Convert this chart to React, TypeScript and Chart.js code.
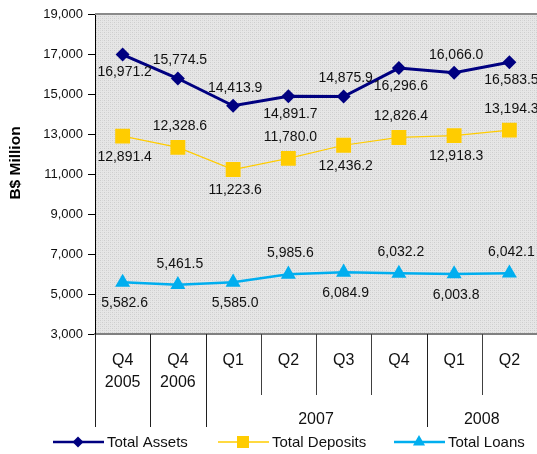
import { useEffect, useRef } from 'react';
import { Chart, registerables } from 'chart.js';

Chart.register(...registerables);

// ---- data ----
const quarters = ['Q4', 'Q4', 'Q1', 'Q2', 'Q3', 'Q4', 'Q1', 'Q2'];
const years = ['2005', '2006', '2007', '2007', '2007', '2007', '2008', '2008'];
const totalAssets = [16971.2, 15774.5, 14413.9, 14891.7, 14875.9, 16296.6, 16066.0, 16583.5];
const totalDeposits = [12891.4, 12328.6, 11223.6, 11780.0, 12436.2, 12826.4, 12918.3, 13194.3];
const totalLoans = [5582.6, 5461.5, 5585.0, 5985.6, 6084.9, 6032.2, 6003.8, 6042.1];
const seriesNames = ['Total Assets', 'Total Deposits', 'Total Loans'];
const yMin = 3000;
const yMax = 19000;
const yStep = 2000;
const yTitle = 'B$ Million';

// label placement (above / below the marker), per series
const labelSides: string[][] = [
  ['below', 'above', 'above', 'below', 'above', 'below', 'above', 'below'],
  ['below', 'above', 'below', 'above', 'below', 'above', 'below', 'above'],
  ['below', 'above', 'below', 'above', 'below', 'above', 'below', 'above'],
];

const FONT = "'Liberation Sans', Arial, sans-serif";

type Group = { year: string; start: number; end: number };
const groups: Group[] = [];
years.forEach((y, i) => {
  const g = groups[groups.length - 1];
  if (g && g.year === y) g.end = i;
  else groups.push({ year: y, start: i, end: i });
});
const tickLabels = quarters.map((q, i) => {
  const g = groups.find((gg) => i >= gg.start && i <= gg.end)!;
  return g.start === g.end ? [q, years[i]] : q;
});

const fmt = (v: number) =>
  v.toLocaleString('en-US', { minimumFractionDigits: 1, maximumFractionDigits: 1 });

function drawMarker(ctx: CanvasRenderingContext2D, style: string, x: number, y: number, r: number, color: string) {
  ctx.save();
  ctx.fillStyle = color;
  ctx.beginPath();
  if (style === 'rectRot') {
    ctx.moveTo(x, y - r);
    ctx.lineTo(x + r, y);
    ctx.lineTo(x, y + r);
    ctx.lineTo(x - r, y);
  } else if (style === 'rect') {
    const s = r * Math.SQRT1_2;
    ctx.rect(x - s, y - s, 2 * s, 2 * s);
  } else {
    const h = r;
    ctx.moveTo(x, y - h);
    ctx.lineTo(x + h * 0.866, y + h * 0.5);
    ctx.lineTo(x - h * 0.866, y + h * 0.5);
  }
  ctx.closePath();
  ctx.fill();
  ctx.restore();
}

export default function App() {
  const ref = useRef<HTMLCanvasElement | null>(null);

  useEffect(() => {
    const canvas = ref.current;
    if (!canvas) return;

    const pc = document.createElement('canvas');
    pc.width = 4;
    pc.height = 4;
    const p = pc.getContext('2d')!;
    p.fillStyle = '#e6e6e6';
    p.fillRect(0, 0, 4, 4);
    p.fillStyle = '#cdcdcd';
    p.fillRect(0, 0, 1, 1);
    p.fillRect(2, 2, 1, 1);
    p.fillStyle = '#d9d9d9';
    p.fillRect(2, 0, 1, 1);
    p.fillRect(0, 2, 1, 1);

    const seriesColors = ['#000080', '#FFCC00', '#00AEEF'];
    const seriesStyles = ['rectRot', 'rect', 'triangle'];
    const seriesRadius = [7, 10.5, 8.7];
    const labelOffsets = [18, 21, 21];

    const decor = {
      id: 'decor',
      beforeDraw(chart: any) {
        const { ctx, chartArea: a } = chart;
        ctx.save();
        const pat = ctx.createPattern(pc, 'repeat');
        ctx.fillStyle = pat || '#dddddd';
        ctx.fillRect(a.left, a.top, a.right - a.left, a.bottom - a.top);
        ctx.restore();
      },
      afterDatasetsDraw(chart: any) {
        const { ctx } = chart;
        const xs = chart.scales.x;
        const ys = chart.scales.y;
        ctx.save();
        ctx.font = `14px ${FONT}`;
        ctx.fillStyle = '#111';
        ctx.textAlign = 'center';
        ctx.textBaseline = 'middle';
        chart.data.datasets.forEach((ds: any, di: number) => {
          ds.data.forEach((v: number, i: number) => {
            const x = xs.getPixelForValue(i);
            const y = ys.getPixelForValue(v);
            const off = labelOffsets[di];
            const yy = labelSides[di][i] === 'above' ? y - off : y + off;
            ctx.fillText(fmt(v), x + 2, yy);
          });
        });
        ctx.restore();
      },
      afterDraw(chart: any) {
        const { ctx, chartArea: a } = chart;
        const xs = chart.scales.x;
        const n = quarters.length;
        const half = (xs.getPixelForValue(1) - xs.getPixelForValue(0)) / 2;
        ctx.save();
        // top border
        ctx.strokeStyle = '#8a8a8a';
        ctx.lineWidth = 2;
        ctx.beginPath();
        ctx.moveTo(a.left, a.top);
        ctx.lineTo(a.right, a.top);
        ctx.stroke();
        // separators in category axis area
        ctx.lineWidth = 1;
        for (let b = 0; b <= n; b++) {
          const x = Math.round(xs.getPixelForValue(Math.min(b, n - 1)) + (b === n ? half : -half)) + 0.5;
          const full = b === n || groups.some((g) => g.start === b);
          ctx.strokeStyle = full ? '#202020' : '#404040';
          ctx.beginPath();
          ctx.moveTo(x, a.bottom);
          ctx.lineTo(x, full ? a.bottom + 93 : a.bottom + 61);
          ctx.stroke();
        }
        // year labels for multi-quarter groups
        ctx.font = `16px ${FONT}`;
        ctx.fillStyle = '#111';
        ctx.textAlign = 'center';
        ctx.textBaseline = 'middle';
        groups.forEach((g) => {
          if (g.end > g.start) {
            const cx = (xs.getPixelForValue(g.start) + xs.getPixelForValue(g.end)) / 2;
            ctx.fillText(g.year, cx, a.bottom + 86);
          }
        });
        // y title
        ctx.save();
        ctx.translate(16, 163);
        ctx.rotate(-Math.PI / 2);
        ctx.font = `bold 15.5px ${FONT}`;
        ctx.fillStyle = '#000';
        ctx.fillText(yTitle, 0, 0);
        ctx.restore();
        // legend
        const ly = 442;
        const starts = [53, 218, 394];
        ctx.font = `15px ${FONT}`;
        ctx.textAlign = 'left';
        seriesNames.forEach((name, i) => {
          const x0 = starts[i];
          ctx.strokeStyle = seriesColors[i];
          ctx.lineWidth = i === 1 ? 1.5 : 2.5;
          ctx.beginPath();
          ctx.moveTo(x0, ly);
          ctx.lineTo(x0 + 51, ly);
          ctx.stroke();
          drawMarker(ctx, seriesStyles[i], x0 + 25, ly, [5.5, 8.5, 7][i], seriesColors[i]);
          ctx.fillStyle = '#111';
          ctx.fillText(name, x0 + 54, ly + 1);
        });
        ctx.restore();
      },
    };

    const mk = (i: number, data: number[]) => ({
      label: seriesNames[i],
      data,
      borderColor: seriesColors[i],
      backgroundColor: seriesColors[i],
      borderWidth: [3, 1.2, 2.5][i],
      pointStyle: seriesStyles[i],
      pointRadius: seriesRadius[i],
      pointHoverRadius: seriesRadius[i],
      pointBorderWidth: 0,
      pointBackgroundColor: seriesColors[i],
      pointBorderColor: seriesColors[i],
      tension: 0,
    });

    const chart = new Chart(canvas, {
      type: 'line',
      data: {
        labels: tickLabels,
        datasets: [mk(0, totalAssets), mk(1, totalDeposits), mk(2, totalLoans)],
      },
      plugins: [decor],
      options: {
        animation: false,
        responsive: false,
        maintainAspectRatio: false,
        layout: { autoPadding: false, padding: { top: 14, left: 0, right: 0, bottom: 0 } },
        plugins: { legend: { display: false }, tooltip: { enabled: false } },
        scales: {
          x: {
            type: 'category',
            offset: true,
            grid: { display: false, drawTicks: false, offset: true },
            border: { display: true, color: '#808080', width: 2 },
            ticks: {
              color: '#111',
              font: { family: FONT, size: 16, lineHeight: 1.375 },
              padding: 16,
              maxRotation: 0,
              autoSkip: false,
            },
            afterFit: (s: any) => {
              s.height = 120;
              s.paddingLeft = 0;
              s.paddingRight = 0;
            },
          },
          y: {
            min: yMin,
            max: yMax,
            grid: { display: true, drawOnChartArea: false, drawTicks: true, tickLength: 7, color: '#000' },
            border: { display: true, color: '#000', width: 1 },
            ticks: {
              stepSize: yStep,
              color: '#111',
              font: { family: FONT, size: 13 },
              padding: 5,
              callback: (v: any) => Number(v).toLocaleString('en-US'),
            },
            afterFit: (s: any) => {
              s.width = 95;
              s.paddingTop = 0;
              s.paddingBottom = 0;
            },
          },
        },
      },
    } as any);

    return () => chart.destroy();
  }, []);

  return (
    <div style={{ position: 'absolute', left: 0, top: 0, width: 537, height: 454, background: '#fff' }}>
      <canvas ref={ref} width={537} height={454} style={{ width: 537, height: 454, display: 'block' }} />
    </div>
  );
}
